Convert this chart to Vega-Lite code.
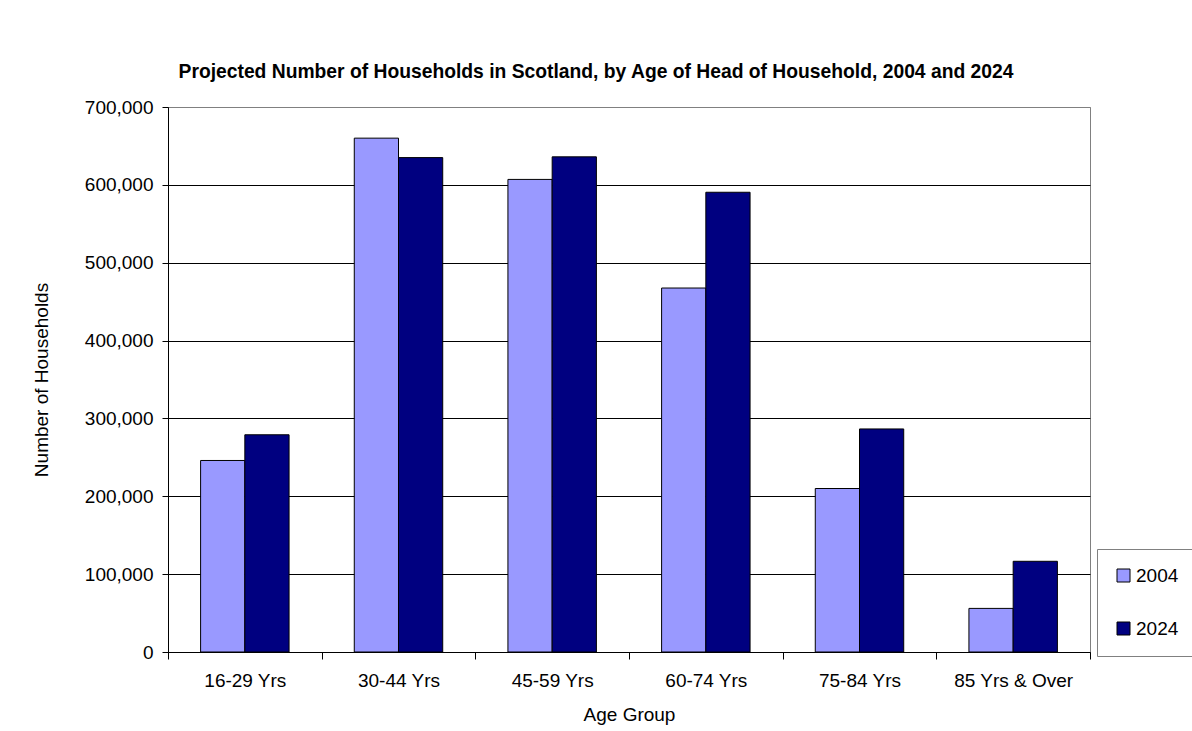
{
  "$schema": "https://vega.github.io/schema/vega-lite/v6.json",
  "autosize": {"type": "none"},
  "padding": {"left": 168, "top": 107, "right": 102, "bottom": 79},
  "width": 922,
  "height": 545,
  "background": "white",
  "title": {
    "text": "Projected Number of Households in Scotland, by Age of Head of Household, 2004 and 2024",
    "font": "Liberation Sans",
    "fontSize": 19.3,
    "fontWeight": "bold",
    "color": "black",
    "anchor": "middle",
    "frame": "group",
    "dx": -33,
    "offset": 16
  },
  "data": {
    "values": [
      {"age": "16-29 Yrs", "year": "2004", "households": 246000},
      {"age": "16-29 Yrs", "year": "2024", "households": 279000},
      {"age": "30-44 Yrs", "year": "2004", "households": 660000},
      {"age": "30-44 Yrs", "year": "2024", "households": 635000},
      {"age": "45-59 Yrs", "year": "2004", "households": 607000},
      {"age": "45-59 Yrs", "year": "2024", "households": 636000},
      {"age": "60-74 Yrs", "year": "2004", "households": 467500},
      {"age": "60-74 Yrs", "year": "2024", "households": 590500},
      {"age": "75-84 Yrs", "year": "2004", "households": 210000},
      {"age": "75-84 Yrs", "year": "2024", "households": 286500},
      {"age": "85 Yrs & Over", "year": "2004", "households": 56000},
      {"age": "85 Yrs & Over", "year": "2024", "households": 116500}
    ]
  },
  "mark": {"type": "bar", "stroke": "black", "strokeWidth": 1},
  "encoding": {
    "x": {
      "field": "age",
      "type": "nominal",
      "sort": null,
      "title": "Age Group",
      "scale": {"paddingInner": 0, "paddingOuter": 0},
      "axis": {
        "labelAngle": 0,
        "tickBand": "extent",
        "tickSize": 7,
        "labelPadding": 12,
        "titlePadding": 15,
        "grid": false
      }
    },
    "xOffset": {
      "field": "year",
      "type": "nominal",
      "scale": {"paddingInner": 0, "paddingOuter": 0.737}
    },
    "y": {
      "field": "households",
      "type": "quantitative",
      "title": "Number of Households",
      "scale": {"domain": [0, 700000], "nice": false},
      "axis": {
        "values": [0, 100000, 200000, 300000, 400000, 500000, 600000, 700000],
        "format": ",d",
        "grid": true,
        "gridColor": {"condition": {"test": "datum.value === 700000", "value": "#808080"}, "value": "black"},
        "gridOpacity": 1,
        "tickSize": 6,
        "labelPadding": 9,
        "titlePadding": 33
      }
    },
    "color": {
      "field": "year",
      "type": "nominal",
      "scale": {"domain": ["2004", "2024"], "range": ["#9999FF", "#000080"]},
      "legend": {
        "title": null,
        "orient": "none",
        "legendX": 929,
        "legendY": 442,
        "symbolType": "square",
        "symbolSize": 169,
        "symbolStrokeColor": "black",
        "symbolStrokeWidth": 1,
        "symbolOpacity": 1,
        "labelFont": "Liberation Sans",
        "labelFontSize": 19,
        "labelColor": "black",
        "labelOffset": 3,
        "rowPadding": 33,
        "padding": 17,
        "strokeColor": "#808080",
        "fillColor": "white"
      }
    }
  },
  "config": {
    "view": {"stroke": "#808080", "strokeWidth": 1},
    "axis": {
      "labelFont": "Liberation Sans",
      "labelFontSize": 19,
      "labelColor": "black",
      "titleFont": "Liberation Sans",
      "titleFontSize": 19,
      "titleFontWeight": "normal",
      "titleColor": "black",
      "domainColor": "black",
      "domainWidth": 1,
      "tickColor": "black",
      "tickWidth": 1
    }
  }
}
